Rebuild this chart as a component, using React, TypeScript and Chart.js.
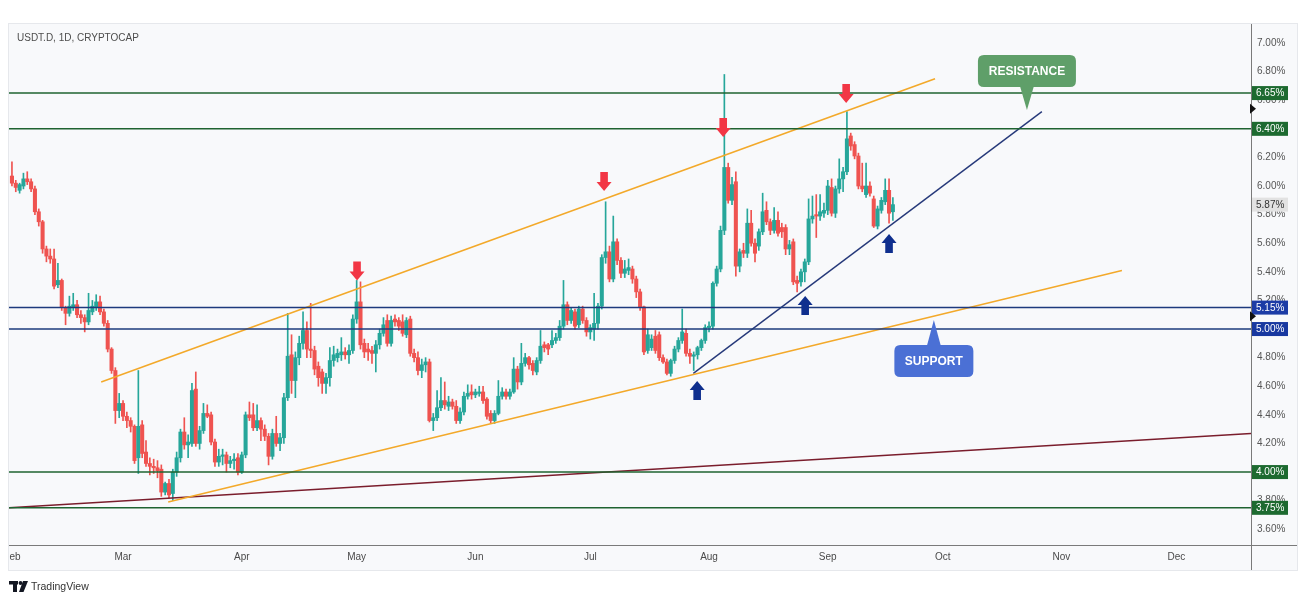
import React, { useEffect, useRef } from "react";
import { Chart, registerables } from "chart.js";

Chart.register(...registerables);

// ---------- DATA ----------
// day index counted from 1 Jan 2024 (= 0); first candle is 1 Feb 2024
const START_DAY = 31;

const opens = [
  6.07, 6.02, 5.97, 6.0, 6.05, 6.03, 5.98, 5.82, 5.75, 5.56,
  5.51, 5.49, 5.31, 5.34, 5.15, 5.11, 5.15, 5.17, 5.1, 5.08,
  5.05, 5.12, 5.15, 5.19, 5.12, 5.04, 4.86, 4.71, 4.43, 4.48,
  4.39, 4.36, 4.32, 4.1, 4.33, 4.14, 4.06, 4.04, 4.03, 4.02,
  3.86, 3.92, 3.85, 4.0, 4.1, 4.28, 4.19, 4.2, 4.58, 4.2,
  4.29, 4.41, 4.4, 4.21, 4.07, 4.11, 4.12, 4.06, 4.08, 4.1,
  4.0, 4.12, 4.4, 4.4, 4.31, 4.36, 4.3, 4.25, 4.11, 4.27,
  4.2, 4.24, 4.52, 4.82, 4.64, 4.8, 4.9, 4.99, 4.86, 4.85,
  4.74, 4.7, 4.62, 4.66, 4.78, 4.8, 4.82, 4.84, 4.82, 4.85,
  5.07, 5.19, 4.9, 4.86, 4.85, 4.83, 4.89, 4.97, 5.06, 4.9,
  5.07, 5.06, 5.05, 4.96, 5.07, 4.83, 4.8, 4.71, 4.75, 4.77,
  4.36, 4.38, 4.45, 4.5, 4.46, 4.49, 4.46, 4.36, 4.42, 4.53,
  4.56, 4.54, 4.55, 4.56, 4.51, 4.41, 4.36, 4.41, 4.53, 4.56,
  4.53, 4.56, 4.72, 4.63, 4.76, 4.8, 4.76, 4.7, 4.78, 4.89,
  4.89, 4.89, 4.92, 4.94, 5.02, 5.17, 5.06, 5.12, 5.03, 5.14,
  5.06, 4.98, 5.0, 5.04, 5.16, 5.5, 5.54, 5.35, 5.61, 5.48,
  5.39, 5.41, 5.42, 5.35, 5.26, 5.155, 4.85, 4.87, 4.95, 4.96,
  4.8, 4.77, 4.69, 4.78, 4.86, 4.92, 4.97, 4.83, 4.81, 4.82,
  4.87, 4.92, 5.01, 5.02, 5.32, 5.42, 5.69, 6.13, 5.9, 6.03,
  5.44, 5.55, 5.53, 5.74, 5.6, 5.58, 5.68, 5.83, 5.75, 5.69,
  5.76, 5.71, 5.71, 5.56, 5.61, 5.34, 5.33, 5.4, 5.47, 5.77,
  5.8, 5.79, 5.81, 5.83, 5.99, 5.81, 5.98, 6.05, 6.1, 6.35,
  6.29, 6.21, 6.0, 5.94, 6.0, 5.91, 5.72, 5.83, 5.89, 5.97, 5.82,
];

const highs = [
  6.17, 6.04, 6.02, 6.09, 6.1, 6.05, 6.0, 5.84, 5.76, 5.58,
  5.56, 5.56, 5.46, 5.35, 5.16, 5.23, 5.25, 5.2, 5.13, 5.1,
  5.25, 5.2, 5.24, 5.23, 5.14, 5.06, 4.87, 4.73, 4.55, 4.5,
  4.42, 4.38, 4.33, 4.71, 4.36, 4.22, 4.1, 4.09, 4.08, 4.05,
  3.93, 3.95, 4.02, 4.14, 4.3, 4.38, 4.26, 4.62, 4.7, 4.32,
  4.48, 4.47, 4.42, 4.23, 4.16, 4.16, 4.14, 4.11, 4.13, 4.13,
  4.14, 4.42, 4.49, 4.48, 4.47, 4.38, 4.33, 4.27, 4.3, 4.39,
  4.27, 4.55, 5.11, 4.96, 4.84, 4.95, 5.12, 5.05, 5.18, 4.88,
  4.77, 4.72, 4.69, 4.87, 4.88, 4.86, 4.94, 4.87, 4.89, 5.1,
  5.34, 5.33, 4.93, 4.9, 4.88, 4.92, 5.0, 5.08, 5.1, 5.09,
  5.1, 5.08, 5.1, 5.08, 5.09, 4.86, 4.84, 4.79, 4.8, 4.79,
  4.41, 4.57, 4.66, 4.63, 4.53, 4.51, 4.5, 4.45, 4.56, 4.61,
  4.61, 4.58, 4.6, 4.6, 4.52, 4.43, 4.43, 4.64, 4.59, 4.58,
  4.58, 4.8, 4.74, 4.9, 4.83, 4.81, 4.78, 4.8, 4.99, 4.91,
  4.9, 4.99, 4.97, 5.06, 5.34, 5.19, 5.15, 5.14, 5.16, 5.16,
  5.08, 5.03, 5.25, 5.18, 5.52, 5.89, 5.58, 5.79, 5.63, 5.5,
  5.48, 5.49, 5.44, 5.37, 5.28, 5.16, 5.0, 4.96, 4.99, 4.98,
  4.82, 4.79, 4.79, 4.88, 4.94, 5.14, 5.0, 4.86, 4.84, 4.88,
  4.93, 5.03, 5.05, 5.33, 5.44, 5.72, 6.78, 6.16, 6.06, 6.1,
  5.56, 5.6, 5.84, 5.83, 5.63, 5.7, 5.95, 5.89, 5.77, 5.85,
  5.82, 5.74, 5.73, 5.62, 5.63, 5.37, 5.42, 5.49, 5.91, 5.93,
  5.94, 5.94, 5.88, 6.04, 6.05, 6.0, 6.19, 6.13, 6.52, 6.37,
  6.31, 6.23, 6.16, 6.16, 6.03, 5.93, 5.86, 5.92, 6.05, 6.05, 5.92,
];

const lows = [
  6.0, 5.96, 5.95, 5.98, 6.01, 5.96, 5.8, 5.72, 5.53, 5.47,
  5.46, 5.28, 5.29, 5.13, 5.03, 5.09, 5.13, 5.08, 5.04, 4.98,
  5.03, 5.1, 5.13, 5.1, 5.02, 4.84, 4.69, 4.34, 4.38, 4.36,
  4.31, 4.28, 4.06, 3.99, 4.1, 4.04, 3.98, 3.99, 3.96, 3.83,
  3.84, 3.82, 3.8, 3.97, 4.07, 4.16, 4.1, 4.18, 4.18, 4.16,
  4.27, 4.38, 4.19, 4.04, 4.04, 4.05, 4.0, 4.03, 4.02, 3.98,
  3.99, 4.1, 4.36, 4.29, 4.29, 4.22, 4.22, 4.05, 4.09, 4.18,
  4.15, 4.2, 4.5, 4.55, 4.52, 4.75, 4.86, 4.8, 4.8, 4.68,
  4.6, 4.55, 4.55, 4.6, 4.74, 4.77, 4.78, 4.79, 4.76, 4.83,
  5.04, 4.86, 4.8, 4.78, 4.76, 4.7, 4.86, 4.95, 4.88, 4.88,
  5.02, 4.99, 4.95, 4.94, 4.81, 4.77, 4.68, 4.66, 4.7, 4.35,
  4.29, 4.36, 4.43, 4.44, 4.43, 4.44, 4.34, 4.34, 4.4, 4.51,
  4.51, 4.52, 4.53, 4.48, 4.37, 4.34, 4.34, 4.4, 4.51, 4.51,
  4.51, 4.55, 4.58, 4.61, 4.74, 4.72, 4.68, 4.68, 4.76, 4.84,
  4.82, 4.87, 4.9, 4.92, 5.0, 5.03, 5.04, 5.0, 5.01, 5.04,
  4.95, 4.93, 4.92, 5.0, 5.14, 5.46, 5.33, 5.33, 5.45, 5.36,
  5.36, 5.38, 5.32, 5.22, 5.13, 4.82, 4.83, 4.85, 4.83, 4.78,
  4.76, 4.68, 4.67, 4.76, 4.84, 4.9, 4.81, 4.76, 4.71, 4.79,
  4.85, 4.9, 4.98, 5.0, 5.3, 5.4, 5.66, 5.88, 5.87, 5.37,
  5.4, 5.5, 5.5, 5.58, 5.47, 5.55, 5.66, 5.73, 5.66, 5.67,
  5.65, 5.64, 5.52, 5.52, 5.31, 5.26, 5.3, 5.33, 5.45, 5.74,
  5.64, 5.76, 5.78, 5.8, 5.79, 5.78, 5.95, 5.96, 6.08, 6.25,
  6.19, 5.98, 5.96, 5.92, 5.93, 5.71, 5.7, 5.81, 5.87, 5.74, 5.76,
];

const closes = [
  6.02, 5.99, 6.01, 6.05, 6.03, 5.98, 5.82, 5.75, 5.56, 5.51,
  5.49, 5.3, 5.34, 5.15, 5.11, 5.16, 5.17, 5.1, 5.08, 5.05,
  5.13, 5.16, 5.19, 5.12, 5.04, 4.86, 4.71, 4.43, 4.48, 4.39,
  4.36, 4.32, 4.08, 4.32, 4.13, 4.06, 4.04, 4.03, 4.01, 3.86,
  3.92, 3.84, 4.0, 4.1, 4.28, 4.19, 4.21, 4.57, 4.2, 4.29,
  4.41, 4.39, 4.21, 4.07, 4.11, 4.12, 4.06, 4.08, 4.09, 4.0,
  4.12, 4.4, 4.38, 4.31, 4.36, 4.3, 4.25, 4.11, 4.27, 4.2,
  4.24, 4.52, 4.81, 4.64, 4.8, 4.9, 4.99, 4.86, 4.85, 4.72,
  4.66, 4.62, 4.66, 4.78, 4.82, 4.83, 4.84, 4.82, 4.85, 5.07,
  5.19, 4.89, 4.84, 4.84, 4.83, 4.89, 4.97, 5.03, 4.9, 5.06,
  5.05, 5.02, 4.97, 5.06, 4.83, 4.8, 4.71, 4.75, 4.77, 4.36,
  4.38, 4.45, 4.5, 4.47, 4.49, 4.46, 4.36, 4.42, 4.53, 4.55,
  4.54, 4.56, 4.56, 4.5, 4.39, 4.36, 4.41, 4.53, 4.56, 4.53,
  4.56, 4.72, 4.63, 4.76, 4.8, 4.75, 4.71, 4.78, 4.88, 4.87,
  4.86, 4.92, 4.94, 5.02, 5.17, 5.06, 5.13, 5.02, 5.14, 5.06,
  4.98, 5.01, 5.04, 5.16, 5.5, 5.54, 5.35, 5.61, 5.48, 5.39,
  5.42, 5.43, 5.35, 5.26, 5.155, 4.84, 4.96, 4.93, 4.85, 4.8,
  4.77, 4.69, 4.78, 4.86, 4.92, 4.98, 4.83, 4.81, 4.82, 4.87,
  4.92, 5.01, 5.02, 5.32, 5.42, 5.69, 6.13, 5.9, 6.01, 5.44,
  5.54, 5.53, 5.74, 5.6, 5.53, 5.68, 5.82, 5.75, 5.69, 5.76,
  5.67, 5.68, 5.56, 5.59, 5.33, 5.32, 5.4, 5.47, 5.77, 5.79,
  5.79, 5.82, 5.83, 6.0, 5.81, 5.98, 6.05, 6.1, 6.33, 6.28,
  6.21, 6.0, 5.98, 6.0, 5.95, 5.72, 5.84, 5.9, 5.97, 5.81, 5.87,
];

const monthDays = [31, 60, 91, 121, 152, 182, 213, 244, 274, 305, 335];
const monthLabels = ["Feb", "Mar", "Apr", "May", "Jun", "Jul", "Aug", "Sep", "Oct", "Nov", "Dec"];
const priceTicks = [3.6, 3.8, 4.0, 4.2, 4.4, 4.6, 4.8, 5.0, 5.2, 5.4, 5.6, 5.8, 6.0, 6.2, 6.4, 6.6, 6.8, 7.0];

const greenLevels = [6.65, 6.4, 4.0, 3.75];
const blueLevels = [5.15, 5.0];
const lastPrice = 5.87;
const axisMarkers = [6.54, 5.09];

const upperChannel = [{ x: 54.3, y: 4.63 }, { x: 272.0, y: 6.75 }];
const lowerChannel = [{ x: 71.8, y: 3.79 }, { x: 320.8, y: 5.41 }];
const longTrend = [{ x: 30.23, y: 3.75 }, { x: 354.5, y: 4.27 }];
const risingSupport = [{ x: 208.9, y: 4.69 }, { x: 299.9, y: 6.52 }];

const sellArrows = [{ x: 121.1, y: 5.34 }, { x: 185.6, y: 5.965 }, { x: 216.7, y: 6.343 }, { x: 248.8, y: 6.58 }];
const buyArrows = [{ x: 209.9, y: 4.636 }, { x: 238.1, y: 5.231 }, { x: 260.0, y: 5.664 }];

const resistanceTip = { x: 296.0, y: 6.531 };
const supportTip = { x: 271.7, y: 5.063 };

// ---------- STYLE / LAYOUT ----------
const X_MIN = 30.23;
const X_MAX = 354.5;
const Y_MIN = 3.49;
const Y_MAX = 7.126;
const UP = "#26a69a";
const DOWN = "#ef5350";
const GREEN_LINE = "#1f6331";
const BLUE_LINE = "#1d3a7d";
const ORANGE = "#f3a92a";
const MAROON = "#7a1d2c";
const NAVY = "#26397a";
const FONT = '"Liberation Sans", Arial, sans-serif';
const PANEL = { l: 9, t: 24, r: 1297, b: 570 };

function roundRect(ctx: CanvasRenderingContext2D, x: number, y: number, w: number, h: number, r: number) {
  ctx.beginPath();
  ctx.moveTo(x + r, y);
  ctx.lineTo(x + w - r, y);
  ctx.quadraticCurveTo(x + w, y, x + w, y + r);
  ctx.lineTo(x + w, y + h - r);
  ctx.quadraticCurveTo(x + w, y + h, x + w - r, y + h);
  ctx.lineTo(x + r, y + h);
  ctx.quadraticCurveTo(x, y + h, x, y + h - r);
  ctx.lineTo(x, y + r);
  ctx.quadraticCurveTo(x, y, x + r, y);
  ctx.closePath();
}

function blockArrow(ctx: CanvasRenderingContext2D, x: number, tipY: number, dir: number, color: string) {
  // dir = 1 -> pointing down (tip at bottom), dir = -1 -> pointing up
  const head = 9, total = 19, hw = 7.5, sw = 3.8;
  ctx.beginPath();
  ctx.moveTo(x, tipY);
  ctx.lineTo(x - hw, tipY - dir * head);
  ctx.lineTo(x - sw, tipY - dir * head);
  ctx.lineTo(x - sw, tipY - dir * total);
  ctx.lineTo(x + sw, tipY - dir * total);
  ctx.lineTo(x + sw, tipY - dir * head);
  ctx.lineTo(x + hw, tipY - dir * head);
  ctx.closePath();
  ctx.fillStyle = color;
  ctx.fill();
}

const overlayPlugin = {
  id: "overlay",
  beforeDraw(chart: any) {
    const { ctx, width, height } = chart;
    ctx.save();
    ctx.fillStyle = "#ffffff";
    ctx.fillRect(0, 0, width, height);
    ctx.fillStyle = "#f8f9fb";
    ctx.fillRect(PANEL.l, PANEL.t, PANEL.r - PANEL.l, PANEL.b - PANEL.t);
    ctx.strokeStyle = "#e6e8ec";
    ctx.lineWidth = 1;
    ctx.strokeRect(PANEL.l - 0.5, PANEL.t - 0.5, PANEL.r - PANEL.l + 1, PANEL.b - PANEL.t + 1);
    ctx.restore();
  },
  afterDatasetsDraw(chart: any) {
    const { ctx } = chart;
    const xs = chart.scales.x;
    const ys = chart.scales.y;
    ctx.save();
    sellArrows.forEach((a) => blockArrow(ctx, xs.getPixelForValue(a.x), ys.getPixelForValue(a.y), 1, "#f23645"));
    buyArrows.forEach((a) => blockArrow(ctx, xs.getPixelForValue(a.x), ys.getPixelForValue(a.y), -1, "#0f2f8e"));

    // RESISTANCE callout
    {
      const tx = xs.getPixelForValue(resistanceTip.x);
      const ty = ys.getPixelForValue(resistanceTip.y);
      const w = 98, h = 32;
      const bx = tx - w / 2, by = ty - 23 - h;
      ctx.fillStyle = "#5f9f69";
      roundRect(ctx, bx, by, w, h, 6);
      ctx.fill();
      ctx.beginPath();
      ctx.moveTo(tx - 7, by + h - 1);
      ctx.lineTo(tx + 7, by + h - 1);
      ctx.lineTo(tx, ty);
      ctx.closePath();
      ctx.fill();
      ctx.fillStyle = "#ffffff";
      ctx.font = `bold 12px ${FONT}`;
      ctx.textAlign = "center";
      ctx.textBaseline = "middle";
      ctx.fillText("RESISTANCE", tx, by + h / 2 + 0.5);
    }
    // SUPPORT callout
    {
      const tx = xs.getPixelForValue(supportTip.x);
      const ty = ys.getPixelForValue(supportTip.y);
      const w = 79, h = 32;
      const bx = tx - w / 2, by = ty + 25;
      ctx.fillStyle = "#4b70d5";
      roundRect(ctx, bx, by, w, h, 6);
      ctx.fill();
      ctx.beginPath();
      ctx.moveTo(tx - 7, by + 1);
      ctx.lineTo(tx + 7, by + 1);
      ctx.lineTo(tx, ty);
      ctx.closePath();
      ctx.fill();
      ctx.fillStyle = "#ffffff";
      ctx.font = `bold 12px ${FONT}`;
      ctx.textAlign = "center";
      ctx.textBaseline = "middle";
      ctx.fillText("SUPPORT", tx, by + h / 2 + 0.5);
    }
    ctx.restore();
  },
  afterDraw(chart: any) {
    const { ctx, chartArea } = chart;
    const xs = chart.scales.x;
    const ys = chart.scales.y;
    ctx.save();
    // axis frame lines
    ctx.strokeStyle = "#7a7a7a";
    ctx.lineWidth = 1;
    ctx.beginPath();
    ctx.moveTo(Math.round(chartArea.right) + 0.5, PANEL.t);
    ctx.lineTo(Math.round(chartArea.right) + 0.5, PANEL.b);
    ctx.moveTo(PANEL.l, Math.round(chartArea.bottom) + 0.5);
    ctx.lineTo(PANEL.r, Math.round(chartArea.bottom) + 0.5);
    ctx.stroke();

    // month labels (clipped at panel edge)
    ctx.save();
    ctx.beginPath();
    ctx.rect(PANEL.l, chartArea.bottom + 1, chartArea.right - PANEL.l, 24);
    ctx.clip();
    ctx.fillStyle = "#4a4a4a";
    ctx.font = `10px ${FONT}`;
    ctx.textAlign = "center";
    ctx.textBaseline = "middle";
    monthDays.forEach((d, i) => {
      ctx.fillText(monthLabels[i], xs.getPixelForValue(d), chartArea.bottom + 12.5);
    });
    ctx.restore();

    // price tags on the right axis
    const tag = (v: number, bg: string, fg: string) => {
      const y = ys.getPixelForValue(v);
      const x = chartArea.right + 1;
      ctx.fillStyle = bg;
      ctx.fillRect(x, y - 7, 36, 14);
      ctx.fillStyle = fg;
      ctx.font = `10px ${FONT}`;
      ctx.textAlign = "left";
      ctx.textBaseline = "middle";
      ctx.fillText(v.toFixed(2) + "%", x + 4, y + 0.5);
    };
    greenLevels.forEach((v) => tag(v, "#1d6a30", "#ffffff"));
    tag(blueLevels[0], "#1c3ca6", "#ffffff");
    tag(blueLevels[1], "#1838a0", "#ffffff");
    tag(lastPrice, "#e2e2e2", "#333333");

    // small axis markers
    ctx.fillStyle = "#111111";
    axisMarkers.forEach((v) => {
      const y = ys.getPixelForValue(v);
      const x = chartArea.right;
      ctx.beginPath();
      ctx.moveTo(x - 1, y - 5);
      ctx.lineTo(x + 5, y);
      ctx.lineTo(x - 1, y + 5);
      ctx.closePath();
      ctx.fill();
    });

    // title
    ctx.fillStyle = "#4d4d4d";
    ctx.font = `10px ${FONT}`;
    ctx.textAlign = "left";
    ctx.textBaseline = "middle";
    ctx.fillText("USDT.D, 1D, CRYPTOCAP", 17, 38);

    // TradingView mark
    ctx.fillStyle = "#131722";
    ctx.fillRect(9, 581, 9, 3.5);
    ctx.fillRect(13, 581, 4, 11);
    ctx.beginPath();
    ctx.arc(20.5, 583, 1.9, 0, Math.PI * 2);
    ctx.fill();
    ctx.beginPath();
    ctx.moveTo(23, 581);
    ctx.lineTo(28, 581);
    ctx.lineTo(23.5, 592);
    ctx.lineTo(19, 592);
    ctx.closePath();
    ctx.fill();
    ctx.fillStyle = "#333333";
    ctx.font = `10.5px ${FONT}`;
    ctx.fillText("TradingView", 31, 587);
    ctx.restore();
  },
};

export default function App() {
  const ref = useRef<HTMLCanvasElement>(null);

  useEffect(() => {
    const canvas = ref.current;
    if (!canvas) return;
    const colors = opens.map((o, i) => (closes[i] >= o ? UP : DOWN));
    const wickData = opens.map((_, i) => ({ x: START_DAY + i, y: [lows[i], highs[i]] }));
    const bodyData = opens.map((o, i) => ({ x: START_DAY + i, y: [o, closes[i]] }));
    const hLine = (v: number) => [{ x: X_MIN, y: v }, { x: X_MAX, y: v }];
    const line = (data: any[], color: string, width: number) => ({
      type: "line" as const,
      data,
      borderColor: color,
      borderWidth: width,
      pointRadius: 0,
      fill: false,
      tension: 0,
      order: 0,
    });

    const chart = new Chart(canvas, {
      type: "bar",
      data: {
        datasets: [
          ...greenLevels.map((v) => line(hLine(v), GREEN_LINE, 1.5)),
          ...blueLevels.map((v) => line(hLine(v), BLUE_LINE, 1.5)),
          line(upperChannel, ORANGE, 1.6),
          line(lowerChannel, ORANGE, 1.6),
          line(longTrend, MAROON, 1.6),
          line(risingSupport, NAVY, 1.4),
          {
            type: "bar",
            data: wickData as any,
            backgroundColor: colors,
            borderWidth: 0,
            barThickness: 1,
            grouped: false,
            order: 2,
          },
          {
            type: "bar",
            data: bodyData as any,
            backgroundColor: colors,
            borderWidth: 0,
            barThickness: 3.4,
            minBarLength: 1,
            grouped: false,
            order: 1,
          },
        ] as any,
      },
      options: {
        responsive: false,
        animation: false,
        events: [],
        layout: { padding: { left: 9, right: 0, top: 25, bottom: 32 } },
        plugins: { legend: { display: false }, tooltip: { enabled: false } },
        scales: {
          x: {
            type: "linear",
            min: X_MIN,
            max: X_MAX,
            offset: false,
            grid: { display: false, drawTicks: false, offset: false },
            border: { display: false },
            ticks: { display: false },
            afterFit: (s: any) => {
              s.height = 25;
            },
          },
          y: {
            type: "linear",
            position: "right",
            min: Y_MIN,
            max: Y_MAX,
            grid: { display: false, drawTicks: false },
            border: { display: false },
            ticks: {
              color: "#555555",
              font: { size: 10, family: FONT },
              padding: 6,
              autoSkip: false,
              callback: (v: any) => Number(v).toFixed(2) + "%",
            },
            afterBuildTicks: (s: any) => {
              s.ticks = priceTicks.map((v) => ({ value: v }));
            },
            afterFit: (s: any) => {
              s.width = 55;
            },
          },
        },
      } as any,
      plugins: [overlayPlugin],
    });
    return () => chart.destroy();
  }, []);

  return (
    <div style={{ position: "absolute", left: 0, top: 0, width: 1306, height: 602, background: "#ffffff" }}>
      <canvas ref={ref} width={1306} height={602} style={{ display: "block" }} />
    </div>
  );
}
